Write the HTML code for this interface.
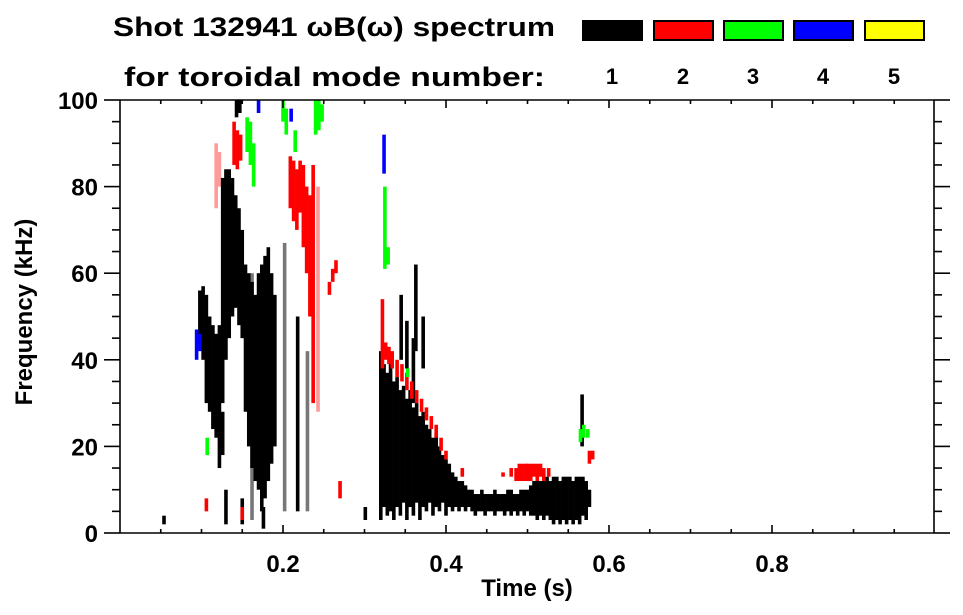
<!DOCTYPE html>
<html><head><meta charset="utf-8"><style>
html,body{margin:0;padding:0;background:#fff;}
svg{display:block;font-family:"Liberation Sans",sans-serif;font-weight:bold;}
</style></head><body>
<svg id="chart" width="963" height="615" viewBox="0 0 963 615" xmlns="http://www.w3.org/2000/svg">
<text x="113" y="36" font-size="27" textLength="442" lengthAdjust="spacingAndGlyphs">Shot 132941 ωB(ω) spectrum</text>
<text x="124" y="86" font-size="27" textLength="421" lengthAdjust="spacingAndGlyphs">for toroidal mode number:</text>
<g id="legend"></g>
<g id="marks"></g>
<g id="axes"></g>
<text x="527" y="596" font-size="24" text-anchor="middle">Time (s)</text>
<text transform="translate(32,312) rotate(-90)" font-size="24" text-anchor="middle">Frequency (kHz)</text>
</svg>
<script>
const modeLabels=["1","2","3","4","5"];
const modeColors=["#000000","#ff0000","#00ff00","#0000ff","#ffff00"];
const xTickLabels=["0.2","0.4","0.6","0.8"];
const xTickValues=[0.2,0.4,0.6,0.8];
const yTickValues=[0,20,40,60,80,100];
// spectral segments per mode: [time s, freq low kHz, freq high kHz]
const mode1=[
[.098,43,56],[.102,40,57],[.106,30,55],[.110,28,50],[.114,24,48],[.118,22,46],[.122,15,48],
[.126,30,82],[.126,18,28],[.130,40,84],[.134,45,84],[.138,50,82],[.142,52,78],[.146,48,75],[.150,45,70],
[.154,28,62],[.158,20,60],[.162,15,58],[.166,12,55],[.170,10,60],[.174,5,62],[.178,8,64],[.182,12,66],
[.186,16,60],[.190,20,55],[.218,5,50],[.143,96,100],[.147,97,100],[.130,2,10],[.150,2,8],[.176,1,6],
[.320,3,42],[.324,6,39],[.328,4,37],[.332,5,40],[.336,3,35],[.340,6,36],[.344,4,33],[.348,7,34],
[.352,3,31],[.356,6,33],[.360,4,29],[.364,7,30],[.368,3,27],[.372,6,28],[.376,5,25],[.380,7,24],
[.384,4,22],[.388,6,23],[.392,5,20],[.396,7,18],[.400,4,17],[.404,6,16],[.408,5,14],[.412,6,13],
[.416,5,12],[.420,6,12],[.424,5,11],[.428,6,10],[.432,5,10],[.436,4,9],[.440,5,9],[.444,5,10],
[.448,4,9],[.452,5,9],[.456,5,9],[.460,4,10],[.464,5,9],[.468,5,9],[.472,4,9],[.476,5,10],
[.480,4,10],[.484,5,9],[.488,4,9],[.492,5,10],[.496,4,10],[.500,5,10],[.504,4,11],[.508,4,12],
[.512,3,12],[.516,4,12],[.520,3,13],[.524,4,13],[.528,3,12],[.532,2,13],[.536,3,13],[.540,2,12],
[.544,3,13],[.548,2,13],[.552,3,13],[.556,2,12],[.560,3,13],[.564,2,13],[.568,4,13],[.572,3,12],[.576,6,10],
[.345,40,55],[.352,38,49],[.360,30,45],[.363,42,62],[.372,38,50],[.567,20,32],[.054,2,4],[.301,3,6]];
const mode1Faint=[[.202,5,67],[.230,5,42],[.162,3,60]];
const mode2=[
[.140,85,95],[.144,84,93],[.148,86,92],[.209,75,87],[.213,72,86],[.217,70,84],[.221,74,86],[.225,66,85],
[.229,60,80],[.233,50,78],[.237,30,85],[.257,55,58],[.261,58,61],[.265,60,63],
[.322,38,54],[.326,40,44],[.330,39,43],[.334,38,42],[.340,36,40],[.346,35,39],[.352,33,37],[.358,31,35],
[.364,30,33],[.370,28,31],[.376,26,29],[.382,24,27],[.388,22,25],[.394,19,22],[.400,17,19],[.420,13,15],
[.470,13,14],[.480,13,15],[.486,12,15],[.490,12,16],[.494,12,16],[.498,12,16],[.500,12,16],[.504,12,16],[.508,13,16],[.512,12,16],[.516,13,16],
[.520,12,15],[.526,13,15],[.576,16,19],[.580,17,19],[.106,5,8],[.150,3,6],[.270,8,12]];
const mode2Faint=[[.243,28,80],[.118,75,90],[.122,80,88]];
const mode3=[[.156,88,96],[.160,85,95],[.164,80,90],[.200,95,100],[.204,92,98],[.215,88,93],
[.240,92,100],[.244,93,100],[.248,95,99],[.325,61,80],[.329,62,66],[.565,21,24],[.569,22,25],[.574,22,24],[.107,18,22],[.353,36,38]];
const mode4=[[.094,40,47],[.098,42,46],[.324,83,92],[.170,97,100],[.210,95,98]];
const mode5=[];

const svg=document.getElementById('chart');
const NS="http://www.w3.org/2000/svg";
const X0=120,X1=934,Y0=533,YT=100;
function X(t){return 120+815*t;}
function Y(f){return 533-4.33*f;}
function mk(tag,attrs,parent){const e=document.createElementNS(NS,tag);for(const k in attrs)e.setAttribute(k,attrs[k]);parent.appendChild(e);return e;}

const lg=document.getElementById('legend');
const legX=[582,653,723,793,864];
for(let i=0;i<modeLabels.length;i++){
  const r=mk('rect',{x:legX[i]+1,y:21,width:59,height:19,fill:modeColors[i],stroke:'#000','stroke-width':2},lg);
  
  
  const t=mk('text',{x:legX[i]+30,y:84,'font-size':22,'text-anchor':'middle'},lg);
  t.textContent=modeLabels[i];
  
  
}

const mg=document.getElementById('marks');
function draw(arr,color,op,name){
  for(const s of arr){
    const y1=Y(s[2]),y2=Y(s[1]);
    const r=mk('rect',{x:X(s[0])-1.8,y:y1,width:3.6,height:Math.max(1.5,y2-y1),fill:color,opacity:op},mg);
    
    
  }
}
draw(mode1Faint,'#555',0.8,'mode1-segment');
draw(mode2Faint,'#ff9a9a',1,'mode2-segment');
draw(mode1,modeColors[0],1,'mode1-segment');
draw(mode2,modeColors[1],1,'mode2-segment');
draw(mode3,modeColors[2],1,'mode3-segment');
draw(mode4,modeColors[3],1,'mode4-segment');
draw(mode5,modeColors[4],1,'mode5-segment');

const ag=document.getElementById('axes');
const ln=(x1,y1,x2,y2,n)=>{const l=mk('line',{x1,y1,x2,y2,stroke:'#000','stroke-width':1.6},ag);};
ln(X0,YT,X1,YT,'top-axis');ln(X0,Y0,X1,Y0,'bottom-axis');ln(X0,YT,X0,Y0,'left-axis');ln(X1,YT,X1,Y0,'right-axis');
for(let f=0;f<=100;f+=5){
  const maj=f%20===0,len=maj?16:8;
  ln(X0-len,Y(f),X0,Y(f),'y-tick');ln(X1,Y(f),X1+len,Y(f),'y-tick-right');
}
for(let k=1;k<20;k++){
  const t=k*0.05,maj=(k%4===0),len=maj?8:4;
  ln(X(t),Y0,X(t),Y0-len,'x-tick');ln(X(t),YT,X(t),YT+len,'x-tick-top');
}
yTickValues.forEach(v=>{const t=mk('text',{x:98,y:Y(v)+9,'font-size':24,'text-anchor':'end'},ag);t.textContent=String(v);
  
  });
xTickValues.forEach((v,i)=>{const t=mk('text',{x:X(v),y:572,'font-size':24,'text-anchor':'middle'},ag);t.textContent=xTickLabels[i];
  
  });
</script>
</body></html>
